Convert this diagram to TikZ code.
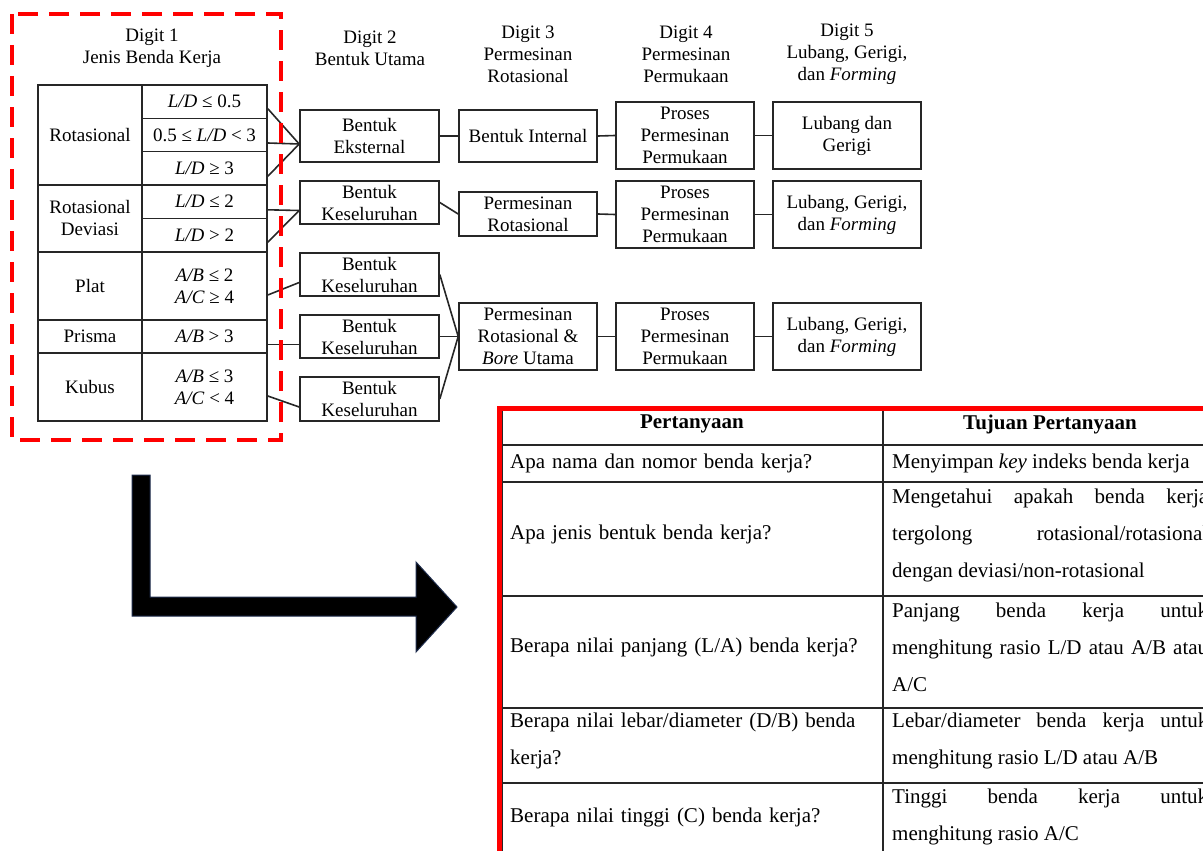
\documentclass[tikz,border=0pt]{standalone}
\usepackage{fontspec}
\setmainfont{Liberation Serif}
\usetikzlibrary{calc}
\definecolor{arrowedge}{RGB}{31,45,77}
\tolerance=10000
\hyphenpenalty=10000
\hbadness=10000

\begin{document}
\begin{tikzpicture}[x=1pt, y=-1pt,
    every node/.style={font=\fontsize{19}{22}\selectfont, inner sep=0pt, align=center},
    cellJ/.style={draw=black!85, line width=1.6pt, minimum width=104pt},
    cellR/.style={draw=black!85, line width=1.6pt, minimum width=125pt},
    box/.style={draw=black!85, line width=1.6pt, minimum width=139pt},
    conn/.style={draw=black!85, line width=1.6pt},
    tline/.style={draw=black!85, line width=1.4pt},
    tq/.style={anchor=west, text width=365pt, align=left, font=\fontsize{21}{37}\selectfont},
    tt/.style={anchor=west, text width=316pt, align=justify, font=\fontsize{21}{37}\selectfont}]
    \useasboundingbox (0,0) rectangle (1203,851);
    \clip (0,0) rectangle (1203,851);

    % headers
    \node (D1) at (152,48) {Digit 1\\Jenis Benda Kerja};
    \node (D2) at (370,48.5) {Digit 2\\Bentuk Utama};
    \node (D3) at (528,54) {Digit 3\\Permesinan\\Rotasional};
    \node (D4) at (686,54) {Digit 4\\Permesinan\\Permukaan};
    \node (D5) at (847,54) {Digit 5\\Lubang, Gerigi,\\dan \textit{Forming}};

    % digit 1 table
    \node (J1) at (90,135) [cellJ, minimum height=100pt] {Rotasional};
    \node (J2) at (90,218.5) [cellJ, minimum height=67pt] {Rotasional\\Deviasi};
    \node (J3) at (90,286) [cellJ, minimum height=68pt] {Plat};
    \node (J4) at (90,336.5) [cellJ, minimum height=33pt] {Prisma};
    \node (J5) at (90,387) [cellJ, minimum height=68pt] {Kubus};

    \node (R1) at (204.5,101.7) [cellR, minimum height=33.3pt] {\textit{L/D} ≤ 0.5};
    \node (R2) at (204.5,135) [cellR, minimum height=33.3pt] {0.5 ≤ \textit{L/D} < 3};
    \node (R3) at (204.5,168.3) [cellR, minimum height=33.3pt] {\textit{L/D} ≥ 3};
    \node (R4) at (204.5,201.8) [cellR, minimum height=33.5pt] {\textit{L/D} ≤ 2};
    \node (R5) at (204.5,235.2) [cellR, minimum height=33.5pt] {\textit{L/D} > 2};
    \node (R6) at (204.5,286) [cellR, minimum height=68pt] {\textit{A/B} ≤ 2\\\textit{A/C} ≥ 4};
    \node (R7) at (204.5,336.5) [cellR, minimum height=33pt] {\textit{A/B} > 3};
    \node (R8) at (204.5,387) [cellR, minimum height=68pt] {\textit{A/B} ≤ 3\\\textit{A/C} < 4};

    % digit 2
    \node (U1) at (369.5,136) [box, minimum height=52pt] {Bentuk\\Eksternal};
    \node (U2) at (369.5,202.5) [box, minimum height=43pt] {Bentuk\\Keseluruhan};
    \node (U3) at (369.5,274.5) [box, minimum height=43pt] {Bentuk\\Keseluruhan};
    \node (U4) at (369.5,336.5) [box, minimum height=43pt] {Bentuk\\Keseluruhan};
    \node (U5) at (369.5,399) [box, minimum height=44pt] {Bentuk\\Keseluruhan};

    % digit 3
    \node (P1) at (528,136) [box, minimum width=138pt, minimum height=52pt] {Bentuk Internal};
    \node (P2) at (528,214) [box, minimum width=138pt, minimum height=44pt] {Permesinan\\Rotasional};
    \node (P3) at (528,336.5) [box, minimum width=138pt, minimum height=67pt] {Permesinan\\Rotasional \&\\\textit{Bore} Utama};

    % digit 4
    \node (M1) at (685,135.5) [box, minimum width=138pt, minimum height=67pt] {Proses\\Permesinan\\Permukaan};
    \node (M2) at (685,214.5) [box, minimum width=138pt, minimum height=67pt] {Proses\\Permesinan\\Permukaan};
    \node (M3) at (685,336.5) [box, minimum width=138pt, minimum height=67pt] {Proses\\Permesinan\\Permukaan};

    % digit 5
    \node (L1) at (847,135.5) [box, minimum width=148pt, minimum height=67pt] {Lubang dan\\Gerigi};
    \node (L2) at (847,214.5) [box, minimum width=148pt, minimum height=67pt] {Lubang, Gerigi,\\dan \textit{Forming}};
    \node (L3) at (847,336.5) [box, minimum width=148pt, minimum height=67pt] {Lubang, Gerigi,\\dan \textit{Forming}};

    \draw [conn] ([yshift=-7pt]R1.east) -- ([yshift=-8pt]U1.west);
    \draw [conn] ([yshift=-8pt]R2.east) -- ([yshift=-8pt]U1.west);
    \draw [conn] ([yshift=-8pt]R3.east) -- ([yshift=-8pt]U1.west);
    \draw [conn] ([yshift=-8pt]R4.east) -- ([yshift=-8pt]U2.west);
    \draw [conn] ([yshift=-7pt]R5.east) -- ([yshift=-8pt]U2.west);
    \draw [conn] ([yshift=-9pt]R6.east) -- ([yshift=-8pt]U3.west);
    \draw [conn] ([yshift=-8pt]R7.east) -- ([yshift=-8pt]U4.west);
    \draw [conn] ([yshift=-9pt]R8.east) -- ([yshift=-8pt]U5.west);

    \draw [conn] (U1.east) -- (P1.west);
    \draw [conn] (U2.east) -- (P2.west);
    \draw [conn] (U3.east) -- (P3.west);
    \draw [conn] (U4.east) -- (P3.west);
    \draw [conn] (U5.east) -- (P3.west);

    \draw [conn] (P1.east) -- (M1.west);
    \draw [conn] (P2.east) -- (M2.west);
    \draw [conn] (P3.east) -- (M3.west);
    \draw [conn] (M1.east) -- (L1.west);
    \draw [conn] (M2.east) -- (L2.west);
    \draw [conn] (M3.east) -- (L3.west);

    % digit 1 frame
    \draw [red, line width=4pt, dash pattern=on 20pt off 11pt] (12,14) rectangle (281,440);

    % bent arrow
    \filldraw [fill=black, draw=arrowedge, line width=1pt] (132,475) -- (150,475) -- (150,597) -- (416,597) -- (416,562)
        -- (457,607) -- (416,652) -- (416,616) -- (132,616) -- cycle;

    % question table
    \draw [tline] (502,410) rectangle (1240,880);
    \foreach \y in {445,482,596,708,783}
        \draw [tline] (502,\y) -- (1240,\y);
    \draw [tline] (883,410) -- (883,880);

    \node (HQ) at (692,424) [font=\fontsize{21}{26}\selectfont\bfseries] {Pertanyaan};
    \node (HT) at (1050,424) [font=\fontsize{21}{26}\selectfont\bfseries] {Tujuan Pertanyaan};

    \node (Q1) at (510,463) [tq] {Apa nama dan nomor benda kerja?};
    \node (Q2) at (510,534) [tq] {Apa jenis bentuk benda kerja?};
    \node (Q3) at (510,647) [tq] {Berapa nilai panjang (L/A) benda kerja?};
    \node (Q4) at (510,741) [tq] {Berapa nilai lebar/diameter (D/B) benda\\kerja?};
    \node (Q5) at (510,817) [tq] {Berapa nilai tinggi (C) benda kerja?};

    \node (T1) at (892,463) [tt] {Menyimpan \textit{key} indeks benda kerja};
    \node (T2) at (892,535) [tt] {Mengetahui apakah benda kerja\linebreak tergolong rotasional/rotasional\linebreak dengan deviasi/non-rotasional};
    \node (T3) at (892,647.5) [tt] {Panjang benda kerja untuk\linebreak menghitung rasio L/D atau A/B atau\linebreak A/C};
    \node (T4) at (892,741) [tt] {Lebar/diameter benda kerja untuk\linebreak menghitung rasio L/D atau A/B};
    \node (T5) at (892,816.5) [tt] {Tinggi benda kerja untuk\linebreak menghitung rasio A/C};

    \draw [red, line width=4.5pt] (499.5,408.5) rectangle (1250,890);
\end{tikzpicture}
\end{document}
